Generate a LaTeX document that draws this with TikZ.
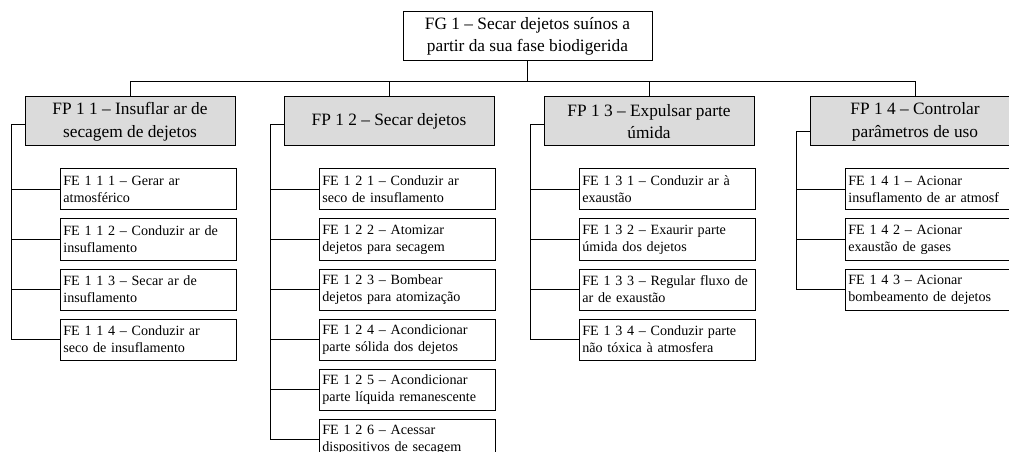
\documentclass[tikz,border=0pt]{standalone}
\usepackage{fontspec}
\setmainfont{Liberation Serif}
\usetikzlibrary{positioning}

\begin{document}
\begin{tikzpicture}[
        x=0.75pt, y=-0.75pt,
        node distance=6pt,
        line width=0.75pt,
        fgbox/.style={rectangle, draw, fill=white, minimum width=186.75pt, minimum height=36.75pt, inner sep=0pt, align=center, font=\fontsize{13}{17}\selectfont},
        fpbox/.style={rectangle, draw, fill=black!14, minimum width=157.5pt, minimum height=36.75pt, inner sep=0pt, align=center, font=\fontsize{13}{17}\selectfont},
        febox/.style={rectangle, draw, fill=white, minimum width=132pt, minimum height=30.75pt, inner sep=2.25pt, text width=127pt, align=left, font=\fontsize{10.6}{12.75}\selectfont}
    ]
        \clip (0,0) rectangle (1009,452);

        % Nodes
        \node[fgbox] (fg) at (527.5,36.5) {FG 1 – Secar dejetos suínos a\\partir da sua fase biodigerida};
        \node[fpbox] (fp1) at (130,121.5) {FP 1 1 – Insuflar ar de\\secagem de dejetos};
        \node[fpbox] (fp2) at (389,121.5) {FP 1 2 – Secar dejetos};
        \node[fpbox] (fp3) at (649,121.5) {FP 1 3 – Expulsar parte\\úmida};
        \node[fpbox] (fp4) at (915,121.5) {FP 1 4 – Controlar\\parâmetros de uso};

        \node[febox, anchor=north west] (fe111) at ([shift={(35,22)}]fp1.south west) {FE 1 1 1 – Gerar ar\\atmosférico};
        \node[febox, below=of fe111] (fe112) {FE 1 1 2 – Conduzir ar de\\insuflamento};
        \node[febox, below=of fe112] (fe113) {FE 1 1 3 – Secar ar de\\insuflamento};
        \node[febox, below=of fe113] (fe114) {FE 1 1 4 – Conduzir ar\\seco de insuflamento};

        \node[febox, anchor=north west] (fe121) at ([shift={(35,22)}]fp2.south west) {FE 1 2 1 – Conduzir ar\\seco de insuflamento};
        \node[febox, below=of fe121] (fe122) {FE 1 2 2 – Atomizar\\dejetos para secagem};
        \node[febox, below=of fe122] (fe123) {FE 1 2 3 – Bombear\\dejetos para atomização};
        \node[febox, below=of fe123] (fe124) {FE 1 2 4 – Acondicionar\\parte sólida dos dejetos};
        \node[febox, below=of fe124] (fe125) {FE 1 2 5 – Acondicionar\\parte líquida remanescente};
        \node[febox, below=of fe125] (fe126) {FE 1 2 6 – Acessar\\dispositivos de secagem};

        \node[febox, anchor=north west] (fe131) at ([shift={(35,22)}]fp3.south west) {FE 1 3 1 – Conduzir ar à\\exaustão};
        \node[febox, below=of fe131] (fe132) {FE 1 3 2 – Exaurir parte\\úmida dos dejetos};
        \node[febox, below=of fe132] (fe133) {FE 1 3 3 – Regular fluxo de\\ar de exaustão};
        \node[febox, below=of fe133] (fe134) {FE 1 3 4 – Conduzir parte\\não tóxica à atmosfera};

        \node[febox, anchor=north west] (fe141) at ([shift={(35,22)}]fp4.south west) {FE 1 4 1 – Acionar\\insuflamento de ar atmosf};
        \node[febox, below=of fe141] (fe142) {FE 1 4 2 – Acionar\\exaustão de gases};
        \node[febox, below=of fe142] (fe143) {FE 1 4 3 – Acionar\\bombeamento de dejetos};

        % Lines
        \coordinate (bus) at (0,82);
        \draw (fg.south) -- (fg.south |- bus);
        \draw (fp1.north) |- (fp4.north |- bus) -- (fp4.north);
        \foreach \h in {fp2,fp3}
            \draw (\h.north) -- (\h.north |- bus);

        \foreach \h/\dy/\last in {fp1/3.5/fe114, fp2/3.5/fe126, fp3/3.5/fe134, fp4/10.5/fe143} {
            \coordinate (sp-\h) at ([shift={(-13,\dy)}]\h.west);
            \draw ([shift={(0,\dy)}]\h.west) -- (sp-\h) |- (\last.west);
        }
        \foreach \f/\h in {fe111/fp1, fe112/fp1, fe113/fp1,
                           fe121/fp2, fe122/fp2, fe123/fp2, fe124/fp2, fe125/fp2,
                           fe131/fp3, fe132/fp3, fe133/fp3,
                           fe141/fp4, fe142/fp4}
            \draw (\f.west) -- (\f.west -| sp-\h);
    \end{tikzpicture}
\end{document}
